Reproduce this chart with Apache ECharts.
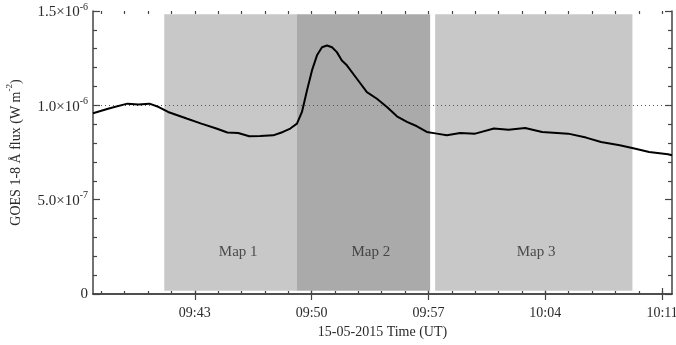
<!DOCTYPE html>
<html>
<head>
<meta charset="utf-8">
<script src="https://cdn.jsdelivr.net/npm/echarts@6/dist/echarts.min.js"></script>
<style>
  html, body { margin: 0; padding: 0; background: #fff; }
  #goesChart { width: 676px; height: 345px; }
</style>
</head>
<body>
<div id="goesChart"></div>
<script>
// time in minutes after 09:00 UT, flux in units of 1e-6 W m^-2
var timeMin = [36.90, 37.85, 38.96, 39.62, 40.28, 40.84, 41.40, 42.51, 43.39, 44.29,
  44.95, 45.60, 46.26, 46.92, 47.70, 48.28, 48.72, 49.12, 49.42, 49.72,
  50.02, 50.32, 50.62, 50.92, 51.22, 51.51, 51.81, 52.11, 52.71, 53.31,
  53.91, 54.51, 55.11, 55.71, 56.31, 56.90, 57.50, 58.10, 58.90, 59.80,
  60.92, 61.80, 62.79, 63.81, 65.37, 66.44, 67.34, 68.46, 69.34, 70.22,
  71.35, 71.59];
var fluxE6 = [0.958, 0.983, 1.009, 1.005, 1.009, 0.991, 0.965, 0.930, 0.903, 0.877,
  0.856, 0.853, 0.836, 0.838, 0.841, 0.859, 0.877, 0.903, 0.965, 1.079,
  1.185, 1.265, 1.308, 1.317, 1.308, 1.282, 1.238, 1.212, 1.141, 1.070,
  1.035, 0.991, 0.942, 0.912, 0.889, 0.859, 0.850, 0.841, 0.853, 0.850,
  0.877, 0.871, 0.880, 0.859, 0.850, 0.829, 0.806, 0.788, 0.771, 0.753,
  0.741, 0.735];

var mapNames = ['Map 1', 'Map 2', 'Map 3'];
var mapStart = [41.17, 49.12, 57.40];
var mapEnd = [49.12, 57.10, 69.22];
var mapColors = ['#c8c8c8', '#aaaaaa', '#c8c8c8'];
var mapLabelTime = [45.6, 53.55, 63.45];
var mapLabelFlux = 0.222;

var xMajorTicks = [43, 50, 57, 64, 71];
var xTickLabels = ['09:43', '09:50', '09:57', '10:04', '10:11'];
var yTickValues = [0, 0.5, 1.0, 1.5];
var yTickLabels = ['0', '{a|5.0×10}{s|-7}', '{a|1.0×10}{s|-6}', '{a|1.5×10}{s|-6}'];

var xMin = 36.90, xMax = 71.59;
var refLevel = 1.0;

var chart = echarts.init(document.getElementById('goesChart'));

// minor ticks every 1.4 min (5 per 7-minute step)
var xMinorTicks = [];
for (var m = 43 - 1.4 * 4; m < xMax; m += 1.4) {
  xMinorTicks.push(Math.round(m * 100) / 100);
}

var font = 'Liberation Serif';
var axisCol = '#444';
var textCol = '#2a2a2a';
var gridRect = { left: 93, right: 4, top: 11, bottom: 51, outerBoundsMode: 'none' };

var lineData = timeMin.map(function (t, i) { return [t, fluxE6[i]]; });
var areaData = mapNames.map(function (n, i) {
  return [
    { xAxis: mapStart[i], yAxis: 0.0175, itemStyle: { color: mapColors[i], opacity: 1 } },
    { xAxis: mapEnd[i], yAxis: 1.483 }
  ];
});
var labelData = mapNames.map(function (n, i) {
  return { name: n, value: [mapLabelTime[i], mapLabelFlux] };
});

function xAxisBase(gridIndex, pos, ticks, len) {
  return {
    type: 'value', gridIndex: gridIndex, position: pos,
    min: xMin, max: xMax,
    axisLine: { show: gridIndex === 0, lineStyle: { color: axisCol, width: 1.5 } },
    axisTick: { show: true, inside: true, length: len, customValues: ticks,
      lineStyle: { color: axisCol, width: 1.2 } },
    axisLabel: { show: false },
    splitLine: { show: false }
  };
}

var bottomAxis = xAxisBase(0, 'bottom', xMajorTicks, 6);
bottomAxis.axisLabel = {
  show: true, customValues: xMajorTicks, margin: 12,
  fontFamily: font, fontSize: 14, color: textCol,
  formatter: function (v) {
    var i = xMajorTicks.indexOf(Math.round(v));
    return i >= 0 ? xTickLabels[i] : '';
  }
};
bottomAxis.name = '15-05-2015 Time (UT)';
bottomAxis.nameLocation = 'middle';
bottomAxis.nameGap = 30;
bottomAxis.nameTextStyle = { fontFamily: font, fontSize: 14, color: textCol };

function yAxisBase(gridIndex, pos) {
  return {
    type: 'value', gridIndex: gridIndex, position: pos,
    min: 0, max: 1.5, interval: 0.5,
    show: gridIndex === 0,
    axisLine: { show: true, lineStyle: { color: axisCol, width: 1.5 } },
    axisTick: { show: true, inside: true, length: 7, lineStyle: { color: axisCol, width: 1.2 } },
    minorTick: { show: true, splitNumber: 5, length: 4, lineStyle: { color: axisCol, width: 1.2 } },
    axisLabel: { show: false },
    splitLine: { show: false }
  };
}

var richText = {
  a: { fontFamily: font, fontSize: 15, color: textCol, lineHeight: 18, verticalAlign: 'bottom' },
  s: { fontFamily: font, fontSize: 10, color: textCol, lineHeight: 18, verticalAlign: 'top' }
};

var leftAxis = yAxisBase(0, 'left');
leftAxis.axisLabel = {
  show: true, margin: 5, fontFamily: font, color: textCol, fontSize: 15,
  formatter: function (v) {
    var i = yTickValues.indexOf(Math.round(v * 10) / 10);
    return i >= 0 ? yTickLabels[i] : '';
  },
  rich: richText
};
leftAxis.name = '{b|GOES 1-8 Å flux (W m}{t|-2}{b|)}';
leftAxis.nameLocation = 'middle';
leftAxis.nameGap = 70;
leftAxis.nameRotate = 90;
leftAxis.nameTextStyle = {
  fontFamily: font, fontSize: 14, color: textCol,
  rich: {
    b: { fontFamily: font, fontSize: 14, color: textCol, lineHeight: 18, verticalAlign: 'bottom' },
    t: { fontFamily: font, fontSize: 9, color: textCol, lineHeight: 18, verticalAlign: 'top' }
  }
};

var option = {
  animation: false,
  backgroundColor: '#fff',
  grid: [gridRect, gridRect],
  xAxis: [
    bottomAxis,
    xAxisBase(0, 'top', xMajorTicks, 6),
    xAxisBase(1, 'bottom', xMinorTicks, 3),
    xAxisBase(1, 'top', xMinorTicks, 3)
  ],
  yAxis: [
    leftAxis,
    yAxisBase(0, 'right'),
    yAxisBase(1, 'left')
  ],
  series: [
    {
      type: 'line', xAxisIndex: 0, yAxisIndex: 0, z: 1,
      data: [], silent: true,
      markArea: { silent: true, data: areaData }
    },
    {
      type: 'scatter', xAxisIndex: 0, yAxisIndex: 0, z: 2,
      symbolSize: 0, silent: true,
      label: {
        show: true, position: 'inside', formatter: '{b}',
        fontFamily: font, fontSize: 15, color: textCol
      },
      data: labelData
    },
    {
      type: 'line', xAxisIndex: 0, yAxisIndex: 0, z: 5,
      showSymbol: false, silent: true,
      lineStyle: { color: '#000', width: 2 },
      data: lineData,
      markLine: {
        silent: true, symbol: ['none', 'none'],
        label: { show: false },
        lineStyle: { color: '#555', type: [1, 3], width: 1 },
        data: [{ yAxis: refLevel }]
      }
    }
  ]
};

chart.setOption(option);
</script>
</body>
</html>
